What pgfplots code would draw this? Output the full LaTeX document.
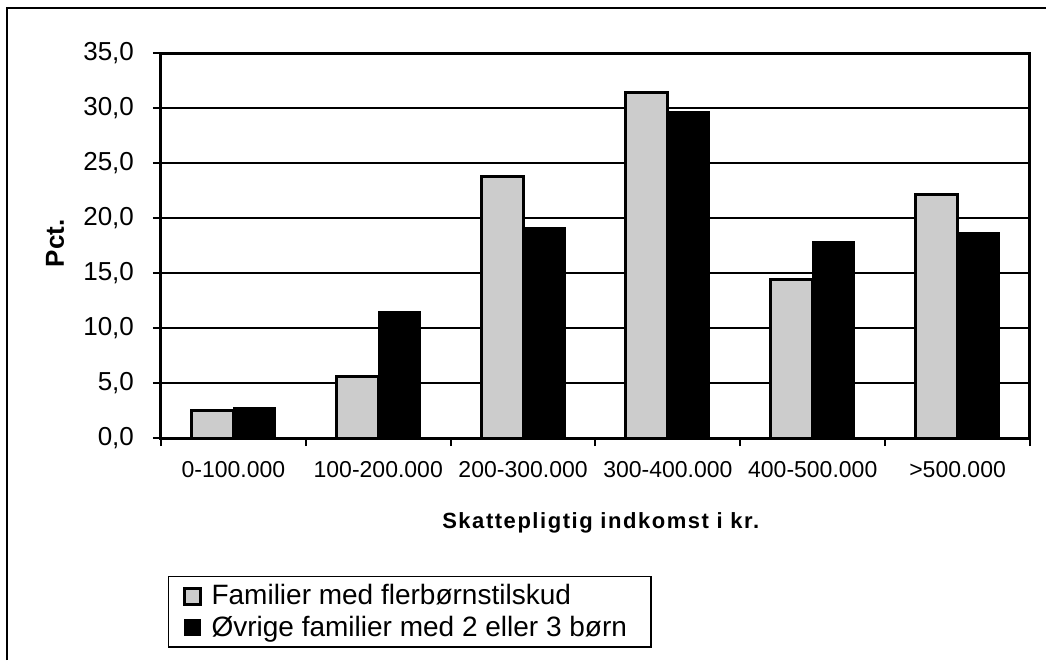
\documentclass[border=0pt]{standalone}
\usepackage{pgfplots}
\pgfplotsset{compat=1.18}
\usepackage{fontspec}
\setmainfont{Liberation Sans}
\newfontfamily\spacedfont[LetterSpace=7]{Liberation Sans}
\definecolor{lightbar}{gray}{0.80}
\begin{document}
\begin{tikzpicture}
\useasboundingbox (0,0) rectangle (523pt,330pt);
\draw[line width=0.8pt] (3.5pt,0) -- (3.5pt,326pt) -- (523pt,326pt);
\begin{axis}[
  at={(80.5pt,111pt)}, anchor=south west,
  scale only axis, width=434.5pt, height=192.5pt,
  xmin=-0.5, xmax=5.5, ymin=0, ymax=35,
  ybar=0pt, bar width=0.29,
  axis line style={line width=1.5pt},
  ytick={0,5,...,35},
  ymajorgrids, grid style={black, line width=0.75pt},
  tick align=outside, tick pos=left,
  major tick length=4pt,
  tick style={black, line width=1pt},
  xtick={-0.5,0.5,1.5,2.5,3.5,4.5,5.5}, xticklabels={},
  extra x ticks={0,1,2,3,4,5},
  extra x tick labels={0-100.000,100-200.000,200-300.000,300-400.000,400-500.000,>500.000},
  extra x tick style={major tick length=0pt},
  x tick label style={font=\fontsize{11.5}{13}\selectfont, yshift=-8pt},
  y tick label style={font=\fontsize{13}{15}\selectfont, xshift=-6pt},
  /pgf/number format/assume math mode=true,
  yticklabel={\pgfmathprintnumber[fixed,fixed zerofill,precision=1,use comma]{\tick}},
  xlabel={\spacedfont\bfseries Skattepligtig indkomst i kr.},
  xlabel style={at={(axis description cs:0.506,-0.221)}, anchor=center, font=\fontsize{11}{13}\selectfont},
  ylabel={\bfseries Pct.},
  ylabel style={at={(axis description cs:-0.122,0.506)}, anchor=center, font=\fontsize{13}{15}\selectfont},
  legend style={at={(0.008,-0.358)}, anchor=north west, draw=black, line width=0.6pt,
    font=\fontsize{14}{16}\selectfont, row sep=0pt, inner xsep=7pt, inner ysep=2pt,
    nodes={inner xsep=5pt, inner ysep=2pt}},
  legend cell align=left,
  legend image code/.code={\draw[#1] (0pt,-4pt) rectangle (8pt,4pt);},
]
\addplot[fill=lightbar, draw=black, line width=1.5pt] coordinates {(0,2.5) (1,5.6) (2,23.8) (3,31.4) (4,14.4) (5,22.1)};
\addplot[fill=black, draw=black, line width=0.5pt] coordinates {(0,2.8) (1,11.5) (2,19.1) (3,29.7) (4,17.9) (5,18.7)};
\legend{Familier med flerbørnstilskud, Øvrige familier med 2 eller 3 børn}
\end{axis}
\end{tikzpicture}
\end{document}
